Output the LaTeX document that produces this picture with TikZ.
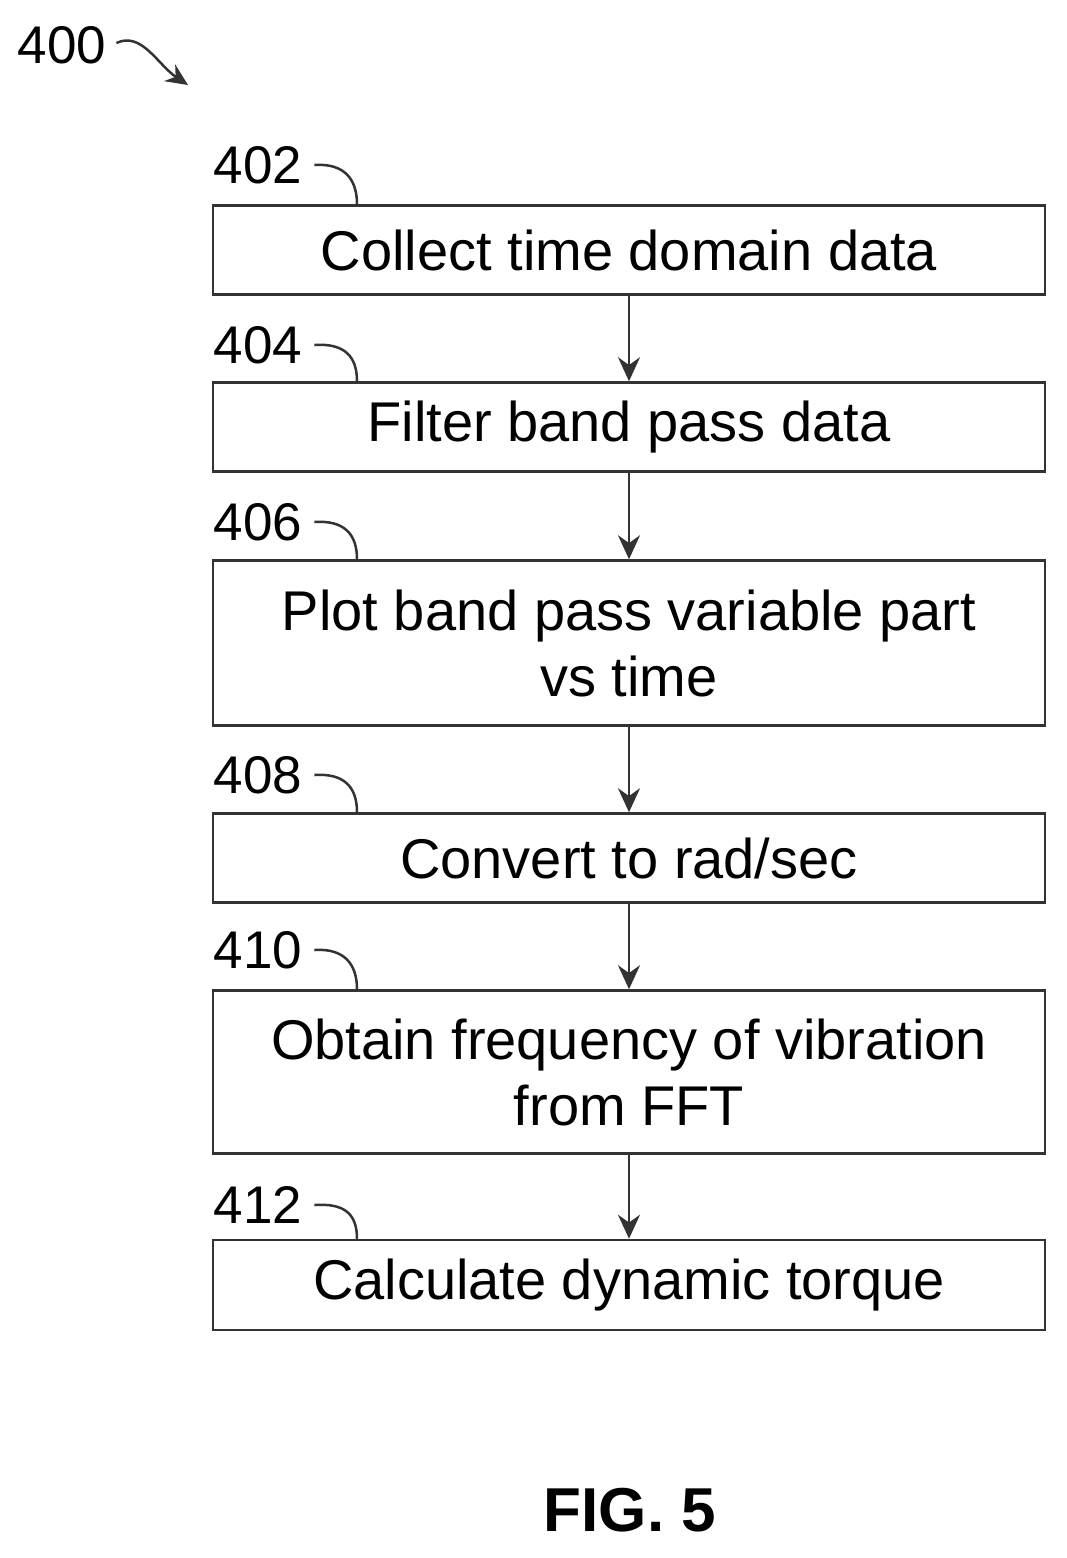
\documentclass[tikz,border=0pt]{standalone}
\usepackage{fontspec}
\setmainfont{Liberation Sans}
\usetikzlibrary{arrows.meta}
\begin{document}
\begin{tikzpicture}[x=1pt,y=-1pt,
  stepbox/.style={draw=black!80,line width=2.5pt,minimum width=832pt,inner sep=0pt,align=center,font=\fontsize{56}{66}\selectfont},
  lbl/.style={font=\fontsize{53}{60}\selectfont,inner sep=0pt},
  flow/.style={draw=black!80,line width=2.5pt,-{Stealth[length=24pt,width=22pt]}},
  lead/.style={draw=black!80,line width=2.5pt}]
\useasboundingbox (0,0) rectangle (1066,1558);
\node[stepbox,minimum height=89pt] (b1) at (629,250) {Collect time domain data};
\node[stepbox,minimum height=89pt] (b2) at (629,427) {Filter band pass data};
\node[stepbox,minimum height=165pt] (b3) at (629,643) {Plot band pass variable part\\vs time};
\node[stepbox,minimum height=89pt] (b4) at (629,858) {Convert to rad/sec};
\node[stepbox,minimum height=163pt] (b5) at (629,1072) {Obtain frequency of vibration\\from FFT};
\node[stepbox,minimum height=90pt] (b6) at (629,1285) {Calculate dynamic torque};
\foreach \a/\b in {b1/b2,b2/b3,b3/b4,b4/b5,b5/b6}
  \draw[flow] (\a.south) -- (\b.north);
\foreach \n/\y/\b in {402/165/b1,404/345/b2,406/522/b3,408/775/b4,410/950/b5,412/1205/b6}{
  \node[lbl] (l\n) at (258,\y) {\n};
  \draw[lead] (l\n.east) ++(12,0) coordinate (s\n) .. controls +(30,-2) and +(0,-25) .. (\b.north west -| 357,0) ;
}
\node[lbl] (l400) at (62,45) {400};
\coordinate (e400) at (188,85);
\draw[lead,-{Stealth[length=22pt,width=20pt]}] (l400.east) ++(10,-2) .. controls +(25,-12) and +(-30,-20) .. (e400);
\node[font=\bfseries\fontsize{62}{70}\selectfont,inner sep=0pt] (fig) at (630,1510) {FIG. 5};
\end{tikzpicture}
\end{document}
